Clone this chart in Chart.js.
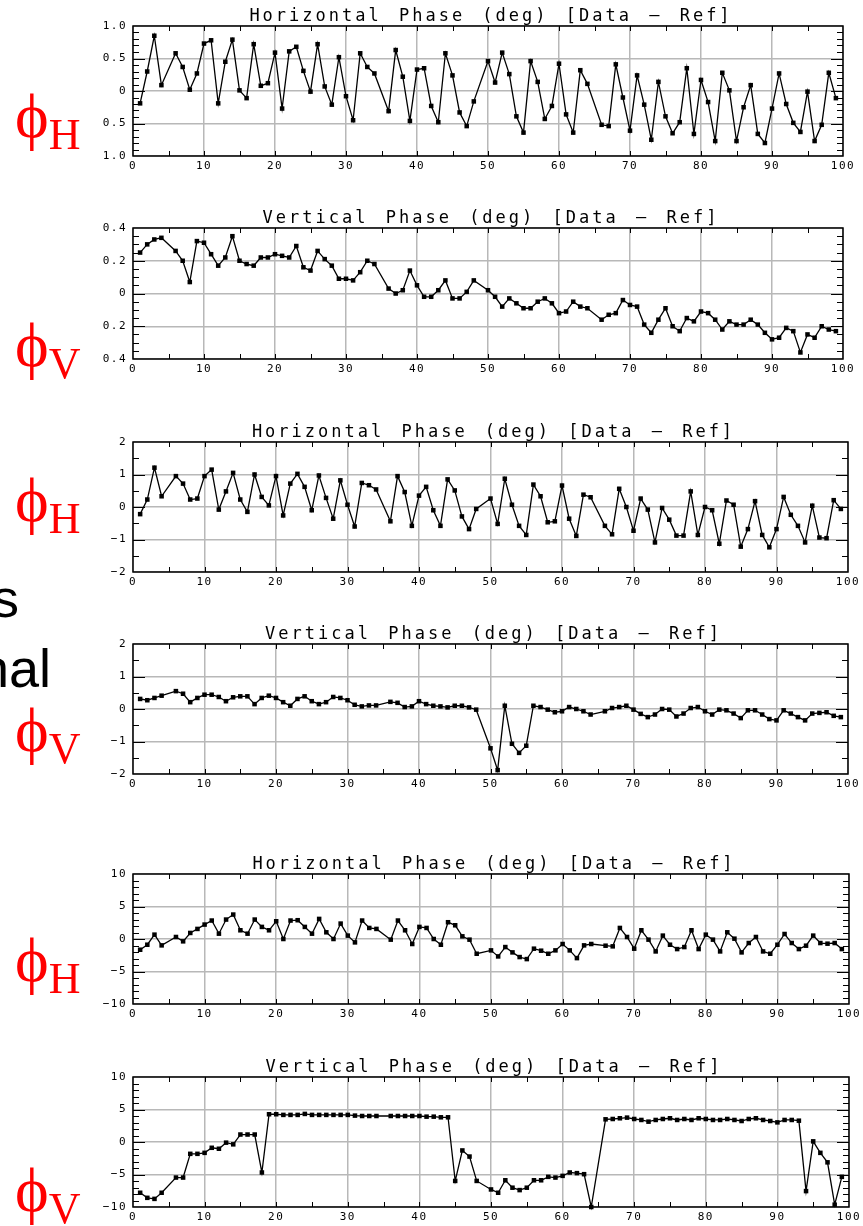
<!DOCTYPE html>
<html>
<head>
<meta charset="utf-8">
<script src="https://cdn.jsdelivr.net/npm/chart.js@4.4.0/dist/chart.umd.min.js"></script>
<style>
  body { margin: 0; width: 863px; height: 1226px; background: #fff; position: relative; overflow: hidden; }
  canvas { position: absolute; left: 0; }
  .ttl { position: absolute; font-family: 'DejaVu Sans Mono', monospace; font-size: 17px; line-height: 17px;
         letter-spacing: 3px; word-spacing: 4px; padding-left: 3px; color: #000; text-align: center; white-space: pre; }
  .phi { position: absolute; left: 15px; font-family: 'Liberation Serif', serif; font-size: 64px; line-height: 1;
         color: #f00; white-space: nowrap; }
  .phi span { font-size: 44px; position: relative; top: 12px; }
  .cut { position: absolute; font-family: 'Liberation Sans', Arial, sans-serif; font-size: 54px; line-height: 54px;
         color: #000; text-align: right; white-space: nowrap; }
</style>
</head>
<body>
<div class="cut" style="right:844px; top:571px;">s</div>
<div class="cut" style="right:812px; top:641px;">nal</div>
<script>
// BPM index along the ring (5, 35, 49 and 65 are missing)
const bpm = [
  1, 2, 3, 4,
  6, 7, 8, 9, 10, 11, 12, 13, 14, 15, 16, 17, 18, 19, 20, 21, 22, 23, 24, 25, 26, 27, 28, 29, 30, 31, 32, 33, 34,
  36, 37, 38, 39, 40, 41, 42, 43, 44, 45, 46, 47, 48,
  50, 51, 52, 53, 54, 55, 56, 57, 58, 59, 60, 61, 62, 63, 64,
  66, 67, 68, 69, 70, 71, 72, 73, 74, 75, 76, 77, 78, 79, 80, 81, 82, 83, 84, 85, 86, 87, 88, 89, 90,
  91, 92, 93, 94, 95, 96, 97, 98, 99
];

// phase differences, deg
const phiH1 = [
  -0.19, 0.30, 0.85, 0.09,
  0.58, 0.37, 0.02, 0.27, 0.73, 0.78, -0.19, 0.45, 0.79, 0.01, -0.11, 0.72, 0.08, 0.12, 0.59,
  -0.27, 0.61, 0.68, 0.31, -0.01, 0.72, 0.07, -0.21, 0.52, -0.08, -0.45, 0.58, 0.37, 0.27,
  -0.31, 0.63, 0.22, -0.46, 0.33, 0.35, -0.23, -0.48, 0.58, 0.24, -0.33, -0.54, -0.16,
  0.46, 0.13, 0.59, 0.26, -0.39, -0.64, 0.46, 0.14, -0.43, -0.23, 0.42, -0.36, -0.64, 0.32, 0.11,
  -0.52, -0.54, 0.41, -0.10, -0.61, 0.24, -0.21, -0.75, 0.14, -0.39, -0.65, -0.48, 0.35, -0.66, 0.17,
  -0.17, -0.77, 0.28, 0.01, -0.77, -0.25, 0.09, -0.66, -0.80, -0.27, 0.27, -0.20, -0.49, -0.63, -0.01,
  -0.77, -0.52, 0.28, -0.11
];
const phiV1 = [
  0.25, 0.30, 0.33, 0.34,
  0.26, 0.20, 0.07, 0.32, 0.31, 0.24, 0.17, 0.22, 0.35, 0.20, 0.18, 0.17, 0.22, 0.22, 0.24,
  0.23, 0.22, 0.29, 0.16, 0.14, 0.26, 0.21, 0.17, 0.09, 0.09, 0.08, 0.13, 0.20, 0.18,
  0.03, 0.00, 0.02, 0.14, 0.05, -0.02, -0.02, 0.02, 0.08, -0.03, -0.03, 0.01, 0.08,
  0.02, -0.02, -0.08, -0.03, -0.06, -0.09, -0.09, -0.05, -0.03, -0.06, -0.12, -0.11, -0.05, -0.08, -0.09,
  -0.16, -0.13, -0.12, -0.04, -0.07, -0.08, -0.19, -0.24, -0.16, -0.09, -0.20, -0.23, -0.15, -0.17, -0.11,
  -0.12, -0.16, -0.22, -0.17, -0.19, -0.19, -0.16, -0.19, -0.24, -0.28, -0.27, -0.21, -0.23, -0.36, -0.25,
  -0.27, -0.20, -0.22, -0.23
];
const phiH2 = [
  -0.22, 0.23, 1.21, 0.33,
  0.95, 0.72, 0.23, 0.26, 0.95, 1.15, -0.08, 0.48, 1.05, 0.23, -0.15, 1.00, 0.31, 0.05, 0.95,
  -0.26, 0.72, 1.02, 0.62, -0.10, 0.97, 0.28, -0.36, 0.82, 0.07, -0.60, 0.74, 0.67, 0.54,
  -0.44, 0.95, 0.46, -0.58, 0.35, 0.62, -0.10, -0.58, 0.85, 0.51, -0.29, -0.68, -0.06,
  0.26, -0.52, 0.87, 0.07, -0.58, -0.86, 0.69, 0.33, -0.47, -0.44, 0.66, -0.36, -0.89, 0.38, 0.30,
  -0.58, -0.84, 0.56, 0.00, -0.73, 0.26, -0.08, -1.09, -0.03, -0.39, -0.88, -0.88, 0.48, -0.86, 0.00,
  -0.10, -1.13, 0.20, 0.07, -1.22, -0.68, 0.18, -0.86, -1.24, -0.68, 0.31, -0.24, -0.58, -1.09, 0.04,
  -0.94, -0.96, 0.21, -0.06
];
const phiV2 = [
  0.31, 0.27, 0.34, 0.41,
  0.55, 0.47, 0.21, 0.34, 0.44, 0.44, 0.37, 0.24, 0.36, 0.39, 0.39, 0.15, 0.34, 0.41, 0.34,
  0.21, 0.10, 0.31, 0.39, 0.24, 0.15, 0.21, 0.37, 0.34, 0.27, 0.13, 0.08, 0.11, 0.11,
  0.22, 0.19, 0.06, 0.08, 0.24, 0.15, 0.10, 0.08, 0.05, 0.10, 0.10, 0.05, -0.02,
  -1.21, -1.88, 0.10, -1.07, -1.35, -1.13, 0.10, 0.06, -0.02, -0.10, -0.07, 0.06, 0.00, -0.07, -0.17,
  -0.07, 0.03, 0.06, 0.10, -0.02, -0.15, -0.25, -0.17, 0.00, -0.02, -0.23, -0.14, 0.03, 0.06, -0.07,
  -0.17, -0.02, -0.04, -0.14, -0.28, -0.04, -0.04, -0.17, -0.31, -0.35, -0.04, -0.14, -0.25, -0.35, -0.14,
  -0.12, -0.10, -0.21, -0.25
];
const phiH3 = [
  -1.65, -0.88, 0.67, -0.98,
  0.31, -0.36, 0.93, 1.55, 2.22, 2.84, 0.82, 2.99, 3.76, 1.34, 0.82, 2.99, 1.86, 1.34, 2.73,
  0.00, 2.84, 2.89, 1.86, 0.82, 3.09, 1.03, 0.00, 2.37, 0.52, -0.52, 2.84, 1.70, 1.55,
  -0.10, 2.84, 1.34, -0.77, 1.86, 1.70, 0.00, -0.88, 2.58, 2.11, 0.41, -0.10, -2.27,
  -1.75, -2.68, -1.24, -2.06, -2.78, -3.09, -1.49, -1.80, -2.27, -1.75, -0.77, -1.75, -2.94, -0.98, -0.77,
  -1.03, -1.13, 1.70, 0.31, -1.49, 1.34, -0.10, -1.91, 0.52, -0.88, -1.55, -1.24, 1.34, -1.55, 0.67,
  -0.10, -1.91, 1.03, 0.05, -2.06, -0.62, 0.31, -1.91, -2.27, -0.88, 0.77, -0.62, -1.55, -1.03, 0.52,
  -0.62, -0.72, -0.62, -1.55
];
const phiV3 = [
  -7.81, -8.59, -8.75, -7.81,
  -5.47, -5.47, -1.82, -1.82, -1.67, -0.89, -1.04, -0.10, -0.36, 1.15, 1.15, 1.15, -4.69, 4.27, 4.27,
  4.17, 4.17, 4.17, 4.32, 4.17, 4.17, 4.17, 4.17, 4.17, 4.17, 4.06, 4.00, 4.00, 4.00,
  4.00, 4.00, 4.00, 4.00, 4.00, 3.90, 3.90, 3.80, 3.80, -5.99, -1.30, -2.24, -5.99,
  -7.30, -7.81, -5.89, -7.03, -7.40, -7.03, -5.89, -5.89, -5.36, -5.47, -5.21, -4.69, -4.79, -4.95, -10.0,
  3.49, 3.54, 3.65, 3.75, 3.54, 3.39, 3.13, 3.39, 3.54, 3.65, 3.39, 3.54, 3.39, 3.65, 3.54,
  3.39, 3.39, 3.54, 3.39, 3.23, 3.54, 3.65, 3.39, 3.23, 3.02, 3.39, 3.39, 3.28, -7.55, 0.10,
  -1.67, -3.13, -9.64, -5.36
];

// tick labels, bottom to top
const yLabels1 = ["1.0", "0.5", "0", "0.5", "1.0"];
const yLabels2 = ["0.4", "0.2", "0", "0.2", "0.4"];
const yLabels3 = ["\u22122", "\u22121", "0", "1", "2"];
const yLabels4 = ["\u221210", "\u22125", "0", "5", "10"];

const titleH = "Horizontal Phase (deg) [Data \u2014 Ref]";
const titleV = "Vertical Phase (deg) [Data \u2014 Ref]";

// panel setup: plot box in page pixels, axis range and tick spacing
const panels = [
  { series: phiH1, title: titleH, sub: "H", labels: yLabels1, min: -1, max: 1, major: 0.5, minor: 0.1,
    top: 26, bottom: 156, right: 843, phiTop: 84 },
  { series: phiV1, title: titleV, sub: "V", labels: yLabels2, min: -0.4, max: 0.4, major: 0.2, minor: 0.05,
    top: 228, bottom: 359, right: 843, phiTop: 313 },
  { series: phiH2, title: titleH, sub: "H", labels: yLabels3, min: -2, max: 2, major: 1, minor: 0.5,
    top: 442, bottom: 572, right: 848, phiTop: 468 },
  { series: phiV2, title: titleV, sub: "V", labels: yLabels3, min: -2, max: 2, major: 1, minor: 0.5,
    top: 644, bottom: 774, right: 848, phiTop: 698 },
  { series: phiH3, title: titleH, sub: "H", labels: yLabels4, min: -10, max: 10, major: 5, minor: 1,
    top: 874, bottom: 1004, right: 849, phiTop: 928 },
  { series: phiV3, title: titleV, sub: "V", labels: yLabels4, min: -10, max: 10, major: 5, minor: 1,
    top: 1077, bottom: 1207, right: 849, phiTop: 1158 },
];

const tickFont = { family: "'DejaVu Sans Mono', monospace", size: 11 };
const padTop = 10;

// box round the plot plus the small inward ticks
const frame = {
  id: "frame",
  beforeDraw(chart) {
    chart.ctx.letterSpacing = "1.5px";
  },
  afterDraw(chart, args, opts) {
    const { ctx, chartArea: a, scales: { x, y } } = chart;
    ctx.save();
    ctx.letterSpacing = "0px";
    ctx.strokeStyle = "#000";
    ctx.lineWidth = 1;
    ctx.beginPath();
    for (let v = 5; v < 100; v += 5) {
      const px = Math.round(x.getPixelForValue(v)) + 0.5;
      ctx.moveTo(px, a.bottom); ctx.lineTo(px, a.bottom - 5);
      ctx.moveTo(px, a.top); ctx.lineTo(px, a.top + 5);
    }
    const n = Math.round((opts.max - opts.min) / opts.minor);
    for (let k = 1; k < n; k++) {
      const v = opts.min + k * opts.minor;
      const r = v / opts.major;
      const len = Math.abs(r - Math.round(r)) < 1e-6 ? 12 : 6;
      const py = Math.round(y.getPixelForValue(v)) + 0.5;
      ctx.moveTo(a.left, py); ctx.lineTo(a.left + len, py);
      ctx.moveTo(a.right, py); ctx.lineTo(a.right - len, py);
    }
    ctx.stroke();
    ctx.lineWidth = 1.5;
    ctx.strokeRect(a.left, a.top, a.right - a.left, a.bottom - a.top);
    ctx.restore();
  }
};

panels.forEach((p) => {
  const h = padTop + (p.bottom - p.top) + 24;
  const cv = document.createElement("canvas");
  cv.width = 863;
  cv.height = h;
  cv.style.top = (p.top - padTop) + "px";
  document.body.appendChild(cv);

  const t = document.createElement("div");
  t.className = "ttl";
  t.textContent = p.title;
  t.style.left = "133px";
  t.style.width = (p.right - 133) + "px";
  t.style.top = (p.top - 19) + "px";
  document.body.appendChild(t);

  const f = document.createElement("div");
  f.className = "phi";
  f.style.top = p.phiTop + "px";
  f.innerHTML = "\u03d5<span>" + p.sub + "</span>";
  document.body.appendChild(f);

  new Chart(cv, {
    type: "line",
    data: {
      datasets: [{
        data: bpm.map((b, k) => ({ x: b, y: p.series[k] })),
        borderColor: "#000",
        borderWidth: 1.3,
        pointStyle: "rect",
        pointRadius: 3.2,
        pointBackgroundColor: "#000",
        pointBorderWidth: 0,
        tension: 0,
        clip: false,
      }],
    },
    options: {
      responsive: false,
      animation: false,
      devicePixelRatio: 1,
      layout: { padding: { left: 93, right: 863 - p.right, top: padTop, bottom: 0 } },
      plugins: {
        legend: { display: false },
        tooltip: { enabled: false },
        frame: { min: p.min, max: p.max, major: p.major, minor: p.minor },
      },
      scales: {
        x: {
          type: "linear", min: 0, max: 100,
          ticks: { stepSize: 10, padding: 4, color: "#000", font: tickFont, maxRotation: 0, autoSkip: false,
                   callback: (v) => String(v) },
          grid: { color: "#b8b8b8", lineWidth: 1.5, drawTicks: false },
          border: { display: false },
          afterFit: (s) => { s.height = 24; s.paddingLeft = 0; s.paddingRight = 0; },
        },
        y: {
          min: p.min, max: p.max,
          ticks: { stepSize: p.major, padding: 6, color: "#000", font: tickFont, autoSkip: false,
                   callback: (v, k) => p.labels[k] },
          grid: { color: "#b8b8b8", lineWidth: 1.5, drawTicks: false },
          border: { display: false },
          afterFit: (s) => { s.width = 40; s.paddingTop = 0; s.paddingBottom = 0; },
        },
      },
    },
    plugins: [frame],
  });
});
</script>
</body>
</html>
